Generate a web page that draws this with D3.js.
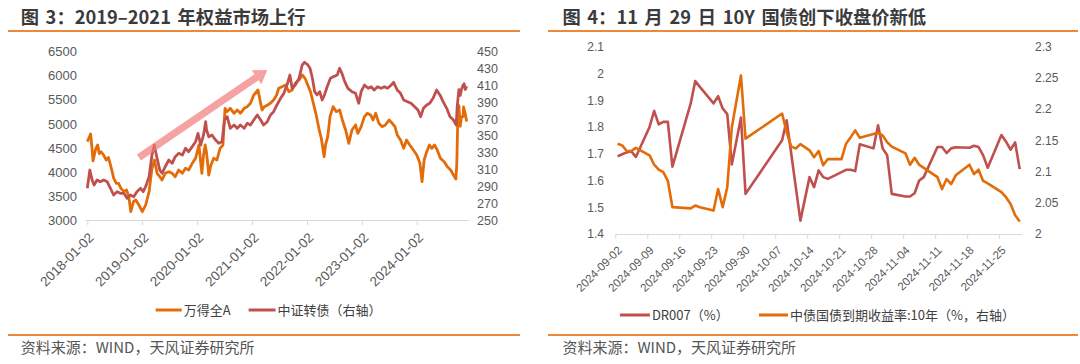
<!DOCTYPE html>
<html><head><meta charset="utf-8">
<script src="https://cdn.jsdelivr.net/npm/d3@7"></script>
<style>
html,body{margin:0;padding:0;background:#fff;}
svg{display:block;font-family:"Noto Sans CJK SC","Noto Sans",sans-serif;}
</style></head><body>
<svg id="c" width="1080" height="364"></svg>
<script>
// ---------------- DATA: left chart ----------------
const windADates = ["2018-01-02","2018-01-12","2018-01-24","2018-02-02","2018-02-09","2018-02-27","2018-03-12","2018-03-23","2018-04-04","2018-04-20","2018-05-08","2018-05-23","2018-06-08","2018-06-27","2018-07-14","2018-07-29","2018-08-14","2018-09-02","2018-09-20","2018-10-05","2018-10-18","2018-11-05","2018-11-20","2018-12-11","2019-01-03","2019-01-25","2019-02-17","2019-03-08","2019-03-25","2019-04-11","2019-04-29","2019-05-14","2019-06-04","2019-06-28","2019-07-20","2019-08-10","2019-09-02","2019-09-26","2019-10-17","2019-11-07","2019-12-01","2019-12-23","2020-01-14","2020-02-03","2020-02-14","2020-02-25","2020-03-05","2020-03-20","2020-04-03","2020-04-22","2020-05-13","2020-06-03","2020-06-22","2020-07-06","2020-07-20","2020-08-10","2020-09-04","2020-09-25","2020-10-16","2020-11-10","2020-12-01","2020-12-22","2021-01-13","2021-02-10","2021-03-09","2021-03-25","2021-04-15","2021-05-03","2021-05-25","2021-06-14","2021-06-28","2021-07-20","2021-08-13","2021-09-03","2021-09-25","2021-10-16","2021-11-10","2021-12-02","2021-12-20","2022-01-07","2022-01-25","2022-02-16","2022-03-04","2022-03-22","2022-04-07","2022-04-26","2022-05-05","2022-05-20","2022-06-04","2022-06-25","2022-07-16","2022-08-07","2022-08-25","2022-09-16","2022-10-07","2022-10-28","2022-11-21","2022-12-06","2022-12-28","2023-01-19","2023-02-07","2023-03-01","2023-03-17","2023-04-04","2023-04-25","2023-05-16","2023-06-07","2023-07-02","2023-07-23","2023-08-10","2023-08-25","2023-09-16","2023-10-07","2023-10-26","2023-11-16","2023-12-10","2024-01-02","2024-01-23","2024-02-06","2024-02-20","2024-03-08","2024-03-26","2024-04-11","2024-04-29","2024-05-17","2024-06-07","2024-07-02","2024-07-23","2024-08-14","2024-09-02","2024-09-18","2024-09-24","2024-09-30","2024-10-08","2024-10-17","2024-10-25","2024-11-05","2024-11-08","2024-11-20","2024-11-29"];
const windAValues = [4629,4700,4790,4500,4230,4480,4560,4380,4420,4352,4248,4300,4110,3867,3763,3760,3659,3589,3624,3485,3173,3381,3416,3312,3173,3312,3589,4075,4248,3971,3901,3832,3971,4005,3971,3901,4040,3971,4075,4040,4179,4283,4560,3971,4352,4560,4400,3936,4144,4283,4248,4491,4560,5323,5253,5323,5219,5288,5219,5323,5357,5427,5600,5704,5288,5357,5392,5427,5496,5600,5739,5773,5808,5669,5704,5843,5912,6016,5947,5808,5669,5392,5184,4907,4699,4317,4560,4733,5149,5357,5253,5288,5080,4872,4595,4872,4976,4803,4941,5149,5219,5184,5080,5219,5011,4941,4976,5080,5011,4941,4768,4664,4491,4664,4560,4456,4352,4179,3797,4248,4421,4560,4491,4560,4456,4283,4213,4110,4040,3936,3850,4150,5000,5380,4950,5150,5150,5350,5200,5050];

const cbDates = ["2018-01-02","2018-01-19","2018-02-03","2018-02-16","2018-03-08","2018-03-29","2018-04-21","2018-05-14","2018-06-05","2018-06-26","2018-07-19","2018-08-10","2018-09-02","2018-09-24","2018-10-16","2018-11-07","2018-11-28","2018-12-22","2019-01-09","2019-01-25","2019-02-17","2019-03-08","2019-03-23","2019-04-11","2019-04-29","2019-05-14","2019-06-04","2019-06-28","2019-07-20","2019-08-10","2019-09-02","2019-09-26","2019-10-17","2019-11-07","2019-12-01","2019-12-23","2020-01-08","2020-01-26","2020-02-14","2020-02-28","2020-03-05","2020-03-20","2020-04-10","2020-05-04","2020-05-25","2020-06-16","2020-07-02","2020-07-20","2020-08-10","2020-09-04","2020-09-25","2020-10-16","2020-11-10","2020-12-01","2020-12-22","2021-01-13","2021-02-06","2021-02-28","2021-03-19","2021-04-13","2021-05-04","2021-05-25","2021-06-16","2021-07-10","2021-08-01","2021-08-22","2021-09-10","2021-09-25","2021-10-16","2021-11-10","2021-12-01","2021-12-16","2022-01-04","2022-01-22","2022-02-07","2022-02-22","2022-03-10","2022-03-28","2022-04-13","2022-04-28","2022-05-16","2022-06-07","2022-06-28","2022-07-22","2022-08-07","2022-08-22","2022-09-10","2022-10-01","2022-10-28","2022-11-21","2022-12-12","2022-12-28","2023-01-19","2023-02-13","2023-03-04","2023-03-25","2023-04-16","2023-05-10","2023-06-01","2023-06-22","2023-07-16","2023-08-01","2023-08-25","2023-09-16","2023-10-07","2023-11-01","2023-11-25","2023-12-19","2024-01-10","2024-01-28","2024-02-15","2024-03-08","2024-03-28","2024-04-19","2024-05-13","2024-06-04","2024-06-25","2024-07-19","2024-08-10","2024-09-02","2024-09-20","2024-09-27","2024-10-08","2024-10-17","2024-10-25","2024-11-05","2024-11-12","2024-11-20","2024-11-29"];
const cbValues = [287.7,309.4,297.5,291.6,297.5,295.5,297.5,295.5,287.7,279.7,283.6,281.7,281.7,275.8,279.7,277.7,283.6,287.7,283.6,289.6,301.5,327.2,339.1,323.3,309.4,305.5,313.3,321.3,317.3,325.2,329.2,327.2,335.2,331.2,337.2,343,352.9,339.1,351,366.8,357,349,351,345,341.2,343,368.8,372.8,359,362.9,359,362.9,359,364.9,362.9,368.8,374.8,368.8,362.9,366.8,374.8,378.7,386.7,394.6,400.5,410.4,422.3,406.5,410.4,418.4,434.2,437.4,435,430.3,418.4,402.5,398.6,402.5,392.6,398.6,408.4,418.4,420.4,422.3,430.3,424.3,414.4,406.5,402.5,400.5,388.7,402.5,410.4,406.5,408.4,404.5,408.4,406.5,408.4,406.5,410.4,413.6,404.5,400.5,392.6,390.6,388.7,384.7,380.7,372.8,382.7,386.7,388.7,394.6,404.5,398.6,390.6,382.7,372.8,368.8,362.9,385,405,398,405,410,412,405,409];

const leftXTicks = ["2018-01-02","2019-01-02","2020-01-02","2021-01-02","2022-01-02","2023-01-02","2024-01-02"];
const leftYTicks = [3000,3500,4000,4500,5000,5500,6000,6500];
const rightYTicksL = [250,270,290,310,330,350,370,390,410,430,450];
const arrowFrom = {date:"2018-12-11", value:4300};
const arrowTo = {date:"2021-04-13", value:6120};

// ---------------- DATA: right chart ----------------
const rDates = ["2024-09-02","2024-09-03","2024-09-04","2024-09-05","2024-09-06","2024-09-09","2024-09-10","2024-09-11","2024-09-12","2024-09-13","2024-09-14","2024-09-18","2024-09-19","2024-09-20","2024-09-23","2024-09-24","2024-09-25","2024-09-26","2024-09-27","2024-09-29","2024-09-30","2024-10-08","2024-10-09","2024-10-10","2024-10-11","2024-10-12","2024-10-14","2024-10-15","2024-10-16","2024-10-17","2024-10-18","2024-10-21","2024-10-22","2024-10-23","2024-10-24","2024-10-25","2024-10-28","2024-10-29","2024-10-30","2024-10-31","2024-11-01","2024-11-04","2024-11-05","2024-11-06","2024-11-07","2024-11-08","2024-11-11","2024-11-12","2024-11-13","2024-11-14","2024-11-15","2024-11-18","2024-11-19","2024-11-20","2024-11-21","2024-11-22","2024-11-25","2024-11-26","2024-11-27","2024-11-28","2024-11-29"];
const dr007 = [1.690,1.698,1.705,1.709,1.688,1.800,1.860,1.810,1.819,1.819,1.652,1.888,1.972,1.950,1.888,1.915,1.869,1.848,1.660,1.835,1.550,1.750,1.825,1.700,1.575,1.450,1.6125,1.575,1.6375,1.6125,1.606,1.631,1.640,1.640,1.635,1.735,1.720,1.806,1.720,1.694,1.550,1.540,1.540,1.5525,1.600,1.6125,1.725,1.725,1.7025,1.720,1.724,1.7225,1.730,1.725,1.694,1.6475,1.770,1.745,1.715,1.7425,1.6425];
const cgb10y = [2.1447,2.142,2.133,2.133,2.138,2.126,2.111,2.103,2.099,2.085,2.043,2.041,2.0455,2.043,2.0375,2.072,2.043,2.075,2.171,2.254,2.1527,2.193,2.163,2.140,2.137,2.144,2.134,2.123,2.133,2.110,2.120,2.120,2.1446,2.155,2.166,2.154,2.160,2.162,2.158,2.147,2.140,2.129,2.111,2.122,2.111,2.106,2.091,2.072,2.088,2.080,2.094,2.111,2.096,2.103,2.085,2.081,2.067,2.059,2.048,2.030,2.020];
const rightXTicks = ["2024-09-02","2024-09-09","2024-09-16","2024-09-23","2024-09-30","2024-10-07","2024-10-14","2024-10-21","2024-10-28","2024-11-04","2024-11-11","2024-11-18","2024-11-25"];
const rYTicksL = [1.4,1.5,1.6,1.7,1.8,1.9,2.0,2.1];
const rYTicksR = [2.0,2.05,2.1,2.15,2.2,2.25,2.3];

// ---------------- DRAW ----------------
const parse = d3.timeParse("%Y-%m-%d");
const svg = d3.select("#c");
const ORANGE = "#E36C09", RED = "#C0504D", RULE = "#F0883A", AX = "#D9D9D9", TXT = "#595959";
const NUMF = '"Liberation Sans",Arial,sans-serif';
const fmt = v => String(+v.toFixed(2));

function frame(x0, x1, tx, title) {
  svg.append("text").attr("x", tx).attr("y", 23.5).attr("font-size", 18.3).attr("font-weight", "bold")
    .attr("word-spacing", 2.5).attr("fill", "#3b3b3b").text(title);
  svg.append("line").attr("x1", x0).attr("x2", x1).attr("y1", 31).attr("y2", 31).attr("stroke", RULE).attr("stroke-width", 2);
  svg.append("line").attr("x1", x0).attr("x2", x1).attr("y1", 335).attr("y2", 335).attr("stroke", RULE).attr("stroke-width", 2);
  svg.append("text").attr("x", tx).attr("y", 352.5).attr("font-size", 15).attr("fill", "#555").text("资料来源：WIND，天风证券研究所");
}
frame(8, 520, 20.7, "图 3：2019–2021 年权益市场上行");
frame(548, 1078, 562.4, "图 4：11 月 29 日 10Y 国债创下收盘价新低");

function styleAxis(g, size) {
  g.select(".domain").attr("stroke", AX);
  g.selectAll(".tick line").attr("stroke", AX);
  g.selectAll("text").attr("fill", TXT).attr("font-size", size).attr("font-family", NUMF);
}

// ---- Left chart ----
const xL = d3.scaleTime().domain([parse("2018-01-02"), parse("2024-11-29")]).range([87.3, 466.7]);
const yL = d3.scaleLinear().domain([3000, 6500]).range([220, 51.7]);
const yL2 = d3.scaleLinear().domain([250, 450]).range([220, 51.7]);

const gxL = svg.append("g").attr("transform", "translate(0,220)")
  .call(d3.axisBottom(xL).tickValues(leftXTicks.map(parse)).tickSize(5).tickSizeOuter(0).tickFormat(d3.timeFormat("%Y-%m-%d")));
styleAxis(gxL, 13.5);
gxL.select(".domain").attr("d", `M${xL.range()[0]-2},0.5H${xL.range()[1]+2}`);
gxL.selectAll(".tick text").attr("x", 0).attr("y", 0).attr("dy", "0.35em")
  .attr("text-anchor", "end").attr("transform", "translate(3.5,15) rotate(-45)");

const gyL = svg.append("g").attr("transform", "translate(80,0)")
  .call(d3.axisLeft(yL).tickValues(leftYTicks).tickSize(0).tickPadding(3).tickFormat(fmt));
styleAxis(gyL, 13); gyL.select(".domain").remove();
const gyL2 = svg.append("g").attr("transform", "translate(472,0)")
  .call(d3.axisRight(yL2).tickValues(rightYTicksL).tickSize(0).tickPadding(5).tickFormat(fmt));
styleAxis(gyL2, 12.5); gyL2.select(".domain").remove();

const windA = windADates.map((d, i) => ({date: parse(d), v: windAValues[i]}));
const cb = cbDates.map((d, i) => ({date: parse(d), v: cbValues[i]}));
svg.append("path").datum(windA).attr("fill", "none").attr("stroke", ORANGE).attr("stroke-width", 2.8)
  .attr("stroke-linejoin", "round").attr("d", d3.line().x(d => xL(d.date)).y(d => yL(d.v)));
svg.append("path").datum(cb).attr("fill", "none").attr("stroke", RED).attr("stroke-width", 2.8)
  .attr("stroke-linejoin", "round").attr("d", d3.line().x(d => xL(d.date)).y(d => yL2(d.v)));

// arrow annotation
(function(){
  const p0 = [xL(parse(arrowFrom.date)), yL(arrowFrom.value)];
  const p1 = [xL(parse(arrowTo.date)), yL(arrowTo.value)];
  const dx = p1[0]-p0[0], dy = p1[1]-p0[1], L = Math.hypot(dx, dy);
  const u = [dx/L, dy/L], n = [-u[1], u[0]];
  const hw = 3.6, hh = 8.5, hl = 13;
  const b = [p1[0]-u[0]*hl, p1[1]-u[1]*hl];
  const pts = [
    [p0[0]+n[0]*hw, p0[1]+n[1]*hw], [b[0]+n[0]*hw, b[1]+n[1]*hw], [b[0]+n[0]*hh, b[1]+n[1]*hh], p1,
    [b[0]-n[0]*hh, b[1]-n[1]*hh], [b[0]-n[0]*hw, b[1]-n[1]*hw], [p0[0]-n[0]*hw, p0[1]-n[1]*hw]];
  svg.append("polygon").attr("points", pts.map(p => p.join(",")).join(" "))
    .attr("fill", "#F07A7A").attr("opacity", 0.7);
})();

// legends
function legendItem(x, y, color, label, len) {
  svg.append("line").attr("x1", x).attr("x2", x+len).attr("y1", y).attr("y2", y).attr("stroke", color).attr("stroke-width", 3);
  svg.append("text").attr("x", x+len+2).attr("y", y).attr("dy", "0.35em").attr("font-size", 13).attr("fill", "#404040").text(label);
}
legendItem(155.7, 310, ORANGE, "万得全A", 26);
legendItem(248.6, 310, RED, "中证转债（右轴）", 27);

// ---- Right chart ----
const xR = d3.scaleTime().domain([parse("2024-09-02"), parse("2024-11-30")]).range([615.3, 1022]);
const halfDay = 12*3600*1000;
const yR1 = d3.scaleLinear().domain([1.4, 2.1]).range([234, 46.7]);
const yR2 = d3.scaleLinear().domain([2.0, 2.3]).range([234, 46.7]);

const gxR = svg.append("g").attr("transform", "translate(0,234)")
  .call(d3.axisBottom(xR).tickValues(rightXTicks.map(parse)).tickSize(5).tickSizeOuter(0).tickFormat(d3.timeFormat("%Y-%m-%d")));
styleAxis(gxR, 11.5);
gxR.selectAll(".tick text").attr("x", 0).attr("y", 0).attr("dy", "0.35em")
  .attr("text-anchor", "end").attr("transform", "translate(4,14) rotate(-45)");

const gyR1 = svg.append("g").attr("transform", "translate(607,0)")
  .call(d3.axisLeft(yR1).tickValues(rYTicksL).tickSize(0).tickPadding(3).tickFormat(fmt));
styleAxis(gyR1, 12); gyR1.select(".domain").remove();
const gyR2 = svg.append("g").attr("transform", "translate(1030,0)")
  .call(d3.axisRight(yR2).tickValues(rYTicksR).tickSize(0).tickPadding(5).tickFormat(fmt));
styleAxis(gyR2, 12); gyR2.select(".domain").remove();

const drData = rDates.map((d, i) => ({date: parse(d), v: dr007[i]}));
const cgbData = rDates.map((d, i) => ({date: parse(d), v: cgb10y[i]}));
svg.append("path").datum(drData).attr("fill", "none").attr("stroke", RED).attr("stroke-width", 2.6)
  .attr("stroke-linejoin", "round").attr("d", d3.line().x(d => xR(+d.date + halfDay)).y(d => yR1(d.v)));
svg.append("path").datum(cgbData).attr("fill", "none").attr("stroke", ORANGE).attr("stroke-width", 2.6)
  .attr("stroke-linejoin", "round").attr("d", d3.line().x(d => xR(+d.date + halfDay)).y(d => yR2(d.v)));

legendItem(619.9, 315, RED, "DR007（%）", 30);
legendItem(759, 315, ORANGE, "中债国债到期收益率:10年（%，右轴）", 29);
</script></body></html>
